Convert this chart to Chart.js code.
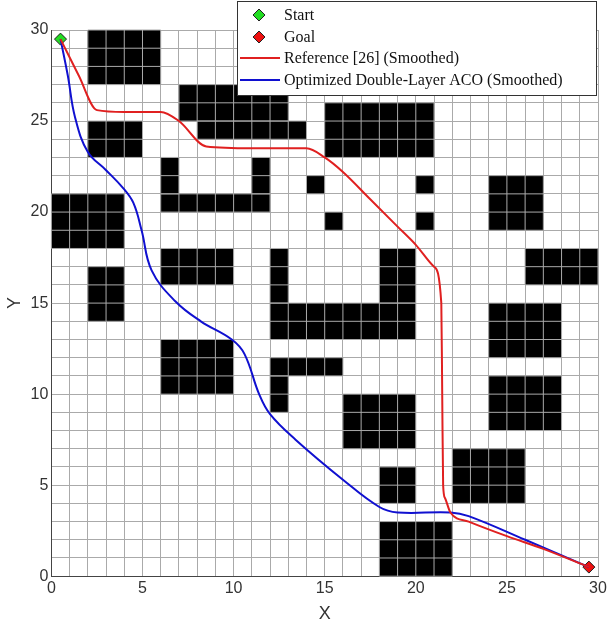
<!DOCTYPE html>
<html><head><meta charset="utf-8">
<script src="https://cdn.jsdelivr.net/npm/chart.js@4"></script>
<style>html,body{margin:0;padding:0;background:#fff}#c{display:block}</style>
</head><body>
<canvas id="c" width="612" height="629"></canvas>
<script>
// obstacles [x0,x1,y0,y1]
const obstacles = [
 [2,6,27,30],[7,13,25,27],[8,14,24,25],[15,21,23,26],[2,5,23,25],
 [6,7,21,23],[6,12,20,21],[11,12,21,23],[0,4,18,21],[14,15,21,22],
 [15,16,19,20],[20,21,21,22],[20,21,19,20],[24,27,19,22],[26,30,16,18],
 [6,10,16,18],[2,4,14,17],[12,13,15,18],[18,20,15,18],[12,20,13,15],
 [6,10,10,13],[12,16,11,12],[12,13,9,11],[16,20,7,10],[18,20,4,6],
 [18,22,0,3],[22,26,4,7],[24,28,12,15],[24,28,8,11]
];
const refX = [0.5,1.5,2.5,4,6,7,8.5,11,14,15,16,17.5,19,20,21,21.4,21.45,21.5,21.6,21.9,22.9,25,27,29.5];
const refY = [29.5,27.5,25.6,25.5,25.5,25,23.6,23.5,23.5,23,22.2,20.7,19.2,18.2,17,15,10,5,4.3,3.5,3.0,2.2,1.5,0.5];
const optX = [0.5,0.9,1.3,2.0,3.0,3.95,4.5,4.95,5.5,6.8,8.2,9.9,10.6,11.4,12.0,13.4,16,18,19,21.9,22.9,26,29.5];
const optY = [29.5,27.5,25.2,23.3,22.3,21.3,20.5,19,16.8,15.1,14.0,13.0,12.2,10.0,8.9,7.5,5.3,3.8,3.5,3.5,3.3,2.0,0.5];
const startPt = [0.5,29.5], goalPt = [29.5,0.5];
const legendLabels = ['Start','Goal','Reference [26] (Smoothed)','Optimized Double-Layer ACO (Smoothed)'];

const toPts=(xs,ys)=>xs.map((x,i)=>({x,y:ys[i]}));
const obstaclePlugin={id:'obs',beforeDatasetsDraw(ch){
  const {ctx,scales:{x,y}}=ch; ctx.save(); ctx.fillStyle='#000';
  obstacles.forEach(o=>{const a=x.getPixelForValue(o[0]),b=x.getPixelForValue(o[1]),c=y.getPixelForValue(o[3]),d=y.getPixelForValue(o[2]);ctx.fillRect(a,c,b-a,d-c);});
  ctx.strokeStyle='#aaa';ctx.lineWidth=1;
  obstacles.forEach(o=>{for(let i=o[0];i<=o[1];i++){const px=x.getPixelForValue(i);ctx.beginPath();ctx.moveTo(px,y.getPixelForValue(o[3]));ctx.lineTo(px,y.getPixelForValue(o[2]));ctx.stroke();}
    for(let j=o[2];j<=o[3];j++){const py=y.getPixelForValue(j);ctx.beginPath();ctx.moveTo(x.getPixelForValue(o[0]),py);ctx.lineTo(x.getPixelForValue(o[1]),py);ctx.stroke();}});
  ctx.restore();}};
const legendPlugin={id:'leg',afterDraw(ch){
  const ctx=ch.ctx;ctx.save();
  const bx=237,by=1,bw=359,bh=94;ctx.fillStyle='#fff';ctx.fillRect(bx,by,bw,bh);
  ctx.strokeStyle='#333';ctx.lineWidth=1;ctx.strokeRect(bx+0.5,by+0.5,bw,bh);
  ctx.font='16px "Liberation Serif"';ctx.textBaseline='middle';ctx.fillStyle='#111';
  const ys=[15,37,58,80];
  const diamond=(cx,cy,col)=>{ctx.beginPath();ctx.moveTo(cx,cy-6);ctx.lineTo(cx+6,cy);ctx.lineTo(cx,cy+6);ctx.lineTo(cx-6,cy);ctx.closePath();ctx.fillStyle=col;ctx.fill();ctx.strokeStyle='#222';ctx.stroke();};
  diamond(259,ys[0],'#22dd22');diamond(259,ys[1],'#ee1111');
  ctx.lineWidth=2;ctx.strokeStyle='#e02020';ctx.beginPath();ctx.moveTo(240,ys[2]);ctx.lineTo(280,ys[2]);ctx.stroke();
  ctx.strokeStyle='#1010d0';ctx.beginPath();ctx.moveTo(240,ys[3]);ctx.lineTo(280,ys[3]);ctx.stroke();
  ctx.fillStyle='#111';legendLabels.forEach((t,i)=>ctx.fillText(t,284,ys[i]+1));
  ctx.restore();}};

new Chart(document.getElementById('c'),{
 type:'line',
 data:{datasets:[
  {data:toPts(refX,refY),borderColor:'#e02020',borderWidth:2,pointRadius:0,tension:0.4,cubicInterpolationMode:'monotone'},
  {data:toPts(optX,optY),borderColor:'#1010d0',borderWidth:2,pointRadius:0,tension:0.4},
  {data:[{x:startPt[0],y:startPt[1]}],pointStyle:'rectRot',pointRadius:6,backgroundColor:'#22dd22',borderColor:'#222',borderWidth:1,showLine:false},
  {data:[{x:goalPt[0],y:goalPt[1]}],pointStyle:'rectRot',pointRadius:6,backgroundColor:'#ee1111',borderColor:'#222',borderWidth:1,showLine:false}
 ]},
 options:{responsive:false,animation:false,
  layout:{padding:{left:0,right:14,top:30,bottom:0}},
  plugins:{legend:{display:false},tooltip:{enabled:false}},
  scales:{
   x:{type:'linear',min:0,max:30,ticks:{stepSize:1,autoSkip:false,maxRotation:0,color:'#333',font:{size:16,family:'Liberation Sans'},callback:v=>v%5===0?v:''},
      grid:{color:'#aaa',drawTicks:false},border:{color:'#444'},
      title:{display:true,text:'X',color:'#333',font:{size:18,family:'Liberation Sans'},padding:{top:2}}},
   y:{type:'linear',min:0,max:30,ticks:{stepSize:1,autoSkip:false,color:'#333',font:{size:16,family:'Liberation Sans'},callback:v=>v%5===0?v:''},
      grid:{color:'#aaa',drawTicks:false},border:{color:'#444'},
      title:{display:true,text:'Y',color:'#333',font:{size:18,family:'Liberation Sans'},padding:{bottom:2}}}
  }},
 plugins:[obstaclePlugin,legendPlugin]
});
</script>
</body></html>
